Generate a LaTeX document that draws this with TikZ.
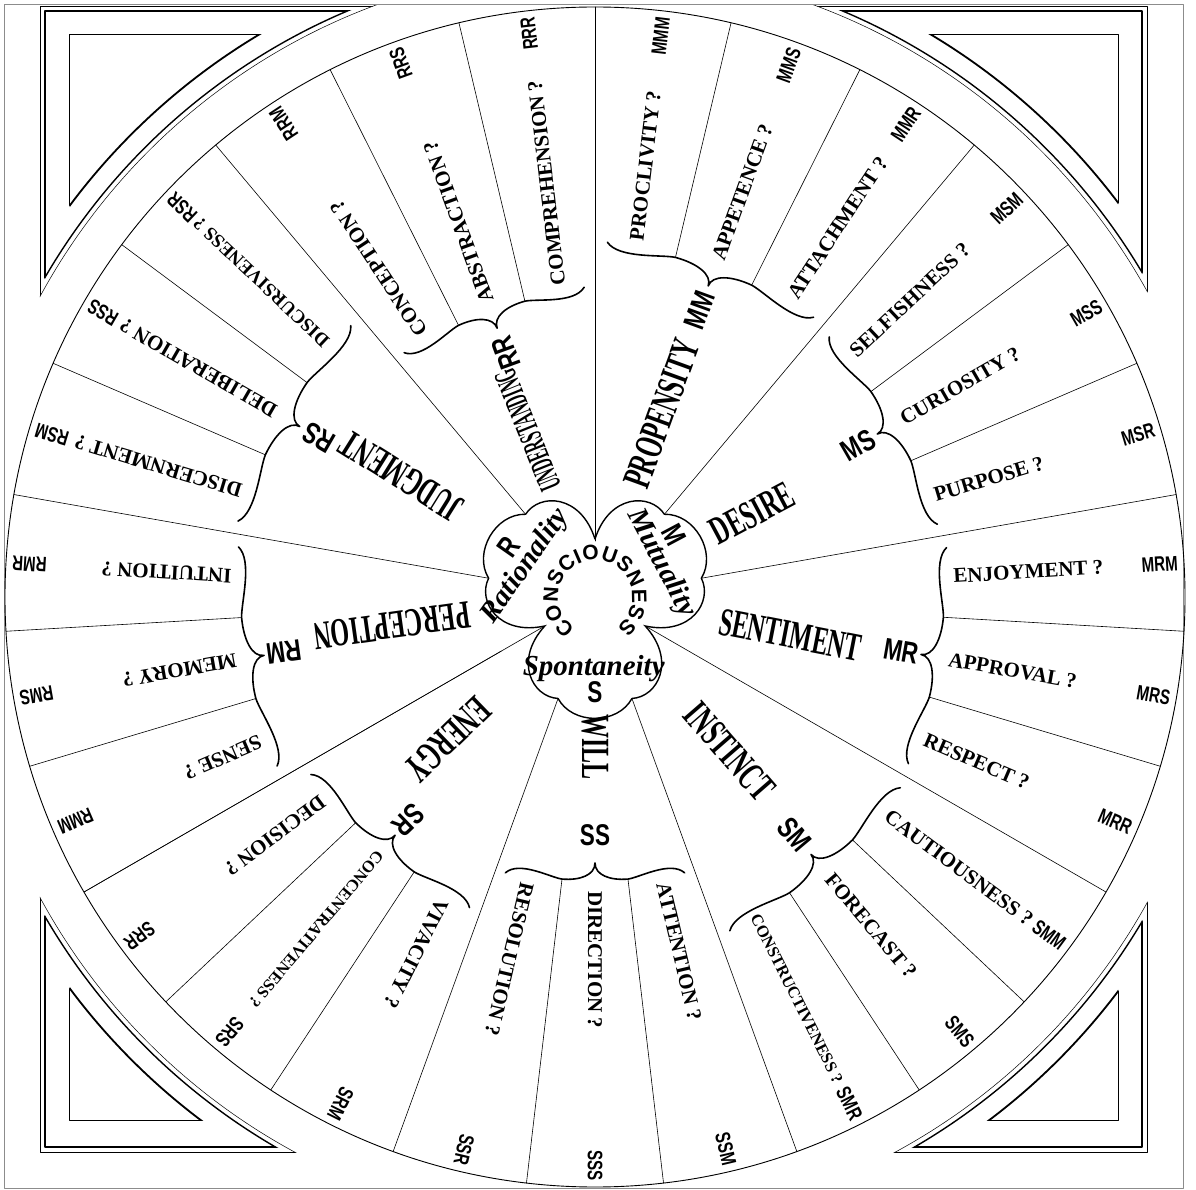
\documentclass[tikz,border=0pt]{standalone}
\usepackage{fontspec}
\setmainfont{Liberation Serif}
\newfontfamily\wordfont{Liberation Serif Bold}
\newfontfamily\codefont{Liberation Sans Bold}
\newfontfamily\lobefont{Liberation Serif Bold Italic}
\newcommand\squeeze[2]{\scalebox{#1}[1]{#2}}
\usetikzlibrary{calc,decorations.text}

\begin{document}
\begin{tikzpicture}[x=1pt, y=1pt, line cap=round, line join=round]

% ---------------- styles ----------------
\tikzset{
  rim/.style={line width=0.9pt},
  spoke/.style={line width=0.6pt},
  thinframe/.style={line width=0.5pt},
  thickframe/.style={line width=1.4pt},
  curly/.style={line width=1.6pt},
  lobe/.style={line width=1.4pt},
  word/.style={font=\wordfont, inner sep=0pt},
  code/.style={font=\codefont\fontsize{21}{21}\selectfont, inner sep=0pt},
  head/.style={font=\wordfont\fontsize{40}{40}\selectfont, inner sep=0pt},
  group/.style={font=\codefont\fontsize{30}{30}\selectfont, inner sep=0pt},
  gothic/.style={font=\lobefont\fontsize{29}{29}\selectfont, inner sep=0pt}
}

% ---------------- parameters ----------------
\def\rrim{590}             % outer ring radius
\coordinate (O) at (0,0);  % centre of the wheel
\useasboundingbox (-595,-593) rectangle (601,597);

% ---------------- page frame ----------------
\draw[line width=0.5pt, black!45] (-591,-591) rectangle (588,593);

% ---------------- corner pieces ----------------
\begin{scope}[even odd rule]
  \clip (-600,-600) rectangle (610,610) (O) circle (631);
  \draw[thinframe] (-555,-555) rectangle (552,591);
\end{scope}
\begin{scope}[even odd rule]
  \clip (-600,-600) rectangle (610,610) (O) circle (636);
  \draw[thickframe] (-550,-550) rectangle (547,586);
\end{scope}
\begin{scope}
  \clip (-555,-555) rectangle (552,591);
  \draw[thinframe] (O) circle (631);
\end{scope}
\begin{scope}
  \clip (-550,-550) rectangle (547,586);
  \draw[thickframe] (O) circle (636);
\end{scope}

% inner triangles
\begin{scope}[even odd rule]
  \clip (-600,-600) rectangle (610,610) (O) circle (655);
  \draw[line width=1pt] (-525,-523) rectangle (523,562);
\end{scope}
\begin{scope}
  \clip (-525,-523) rectangle (523,562);
  \draw[line width=1.8pt] (O) circle (655);
\end{scope}

% ---------------- wheel ----------------
\draw[rim] (O) circle (\rrim);

% main and second spokes
\foreach \a in {90,-30,210} \draw[spoke] (\a:56) -- (\a:\rrim);
\foreach \a in {50,10,-70,-110,-150,170,130} \draw[spoke] (\a:108) -- (\a:\rrim);

% braces, third spokes and group letters
\foreach \m/\R/\g/\gr/\gd in {70/345/MM/70/40, 30/340/MS/30/36, -10/345/MR/-10/34,
    -50/350/SM/-50/40, -90/280/SS/0/42, -130/325/SR/-136/34,
    190/350/RM/188/34, 150/355/RS/150/36, 110/300/RR/110/40}
{
  \begin{scope}[rotate=\m]
    \draw[curly] (-18:\R+10) .. controls (-16:\R-6) and (-9:\R+4) .. (-6.67:\R+4)
      .. controls (-3:\R+4) and (0:\R-2) .. (0:\R-14)
      .. controls (0:\R-2) and (3:\R+4) .. (6.67:\R+4)
      .. controls (9:\R+4) and (16:\R-6) .. (18:\R+10);
    \draw[spoke] (-6.67:\R+4) -- (-6.67:\rrim);
    \draw[spoke] (6.67:\R+4) -- (6.67:\rrim);
  \end{scope}
  \node[group, rotate=\gr] (grp\g) at (\m:\R-\gd) {\squeeze{0.75}{\g}};
}

% ---------------- outer words and codes ----------------
\foreach \a/\w/\c/\r/\fs in {
    83.33/PROCLIVITY ?/MMM/359/21, 70/APPETENCE ?/MMS/359/21, 56.67/ATTACHMENT ?/MMR/359/21,
    43.33/SELFISHNESS ?/MSM/354/21, 30/CURIOSITY ?/MSS/354/21, 16.67/PURPOSE ?/MSR/354/21,
    3.33/ENJOYMENT ?/MRM/359/21, -10/APPROVAL ?/MRS/359/21, -23.33/RESPECT ?/MRR/359/21,
    -36.67/CAUTIOUSNESS ?/SMM/364/21, -50/FORECAST ?/SMS/364/21, -63.33/CONSTRUCTIVENESS ?/SMR/356/16.5,
    -76.67/ATTENTION ?/SSM/294/21, -90/DIRECTION ?/SSS/294/21, -103.33/RESOLUTION ?/SSR/294/21,
    -116.67/VIVACITY ?/SRM/339/21, -130/CONCENTRATIVENESS ?/SRS/334/16.5, -143.33/DECISION ?/SRR/339/21,
    203.33/SENSE ?/RMM/364/21, 190/MEMORY ?/RMS/364/21, 176.67/INTUITION ?/RMR/364/21,
    163.33/DISCERNMENT ?/RSM/369/21, 150/DELIBERATION ?/RSS/369/21, 136.67/DISCURSIVENESS ?/RSR/369/19,
    123.33/CONCEPTION ?/RRM/314/21, 110/ABSTRACTION ?/RRS/314/21, 96.67/COMPREHENSION ?/RRR/314/21}
{
  \node[word, rotate=\a, anchor=west] (w\c) at (\a:\r) {\fontsize{\fs}{\fs}\selectfont \w};
  \node[code, rotate=\a, anchor=east] (c\c) at (\a:584) {\squeeze{0.72}{\c}};
}

% ---------------- second ring words ----------------
\foreach \a/\r/\w in {70/195/PROPENSITY, 28/178/DESIRE, -11/199/SENTIMENT, -49/205/INSTINCT,
    -90/150/WILL, -136/205/ENERGY, 188/205/PERCEPTION, 148/228/JUDGMENT}
  \node[head, rotate=\a] (h\w) at (\a:\r) {\squeeze{0.6}{\w}};
\node[head, font=\wordfont\fontsize{32}{32}\selectfont, rotate=112] (hUNDERSTANDING)
  at (112:180) {\squeeze{0.46}{UNDERSTANDING}};

% ---------------- centre ----------------
\draw[lobe] (90:58) .. controls (82:104) and (62:118) .. (50:108)
  .. controls (40:130) and (20:130) .. (10:108)
  .. controls (-2:118) and (-22:104) .. (-30:58)
  .. controls (-38:104) and (-58:118) .. (-70:108)
  .. controls (-80:130) and (-100:130) .. (-110:108)
  .. controls (-122:118) and (-142:104) .. (-150:58)
  .. controls (-158:104) and (-178:118) .. (-190:108)
  .. controls (-200:130) and (-220:130) .. (-230:108)
  .. controls (-242:118) and (-262:104) .. (-270:58);

\node[gothic, rotate=55] (rat) at (156:76) {Rationality};
\node[group, rotate=55] (lobR) at (150:100) {\squeeze{0.75}{R}};
\node[gothic, rotate=-62] (mut) at (27:74) {Mutuality};
\node[group, rotate=-62] (lobM) at (38:100) {\squeeze{0.75}{M}};
\node[gothic] (spo) at (-91:72) {Spontaneity};
\node[group] (lobS) at (-90:95) {\squeeze{0.75}{S}};

\path[decorate, decoration={text along path, text align={fit to path},
    text={|\codefont\fontsize{21}{21}\selectfont|CONSCIOUSNESS}}]
  (238:37) arc[start angle=238, end angle=-54, radius=37];

\end{tikzpicture}
\end{document}
